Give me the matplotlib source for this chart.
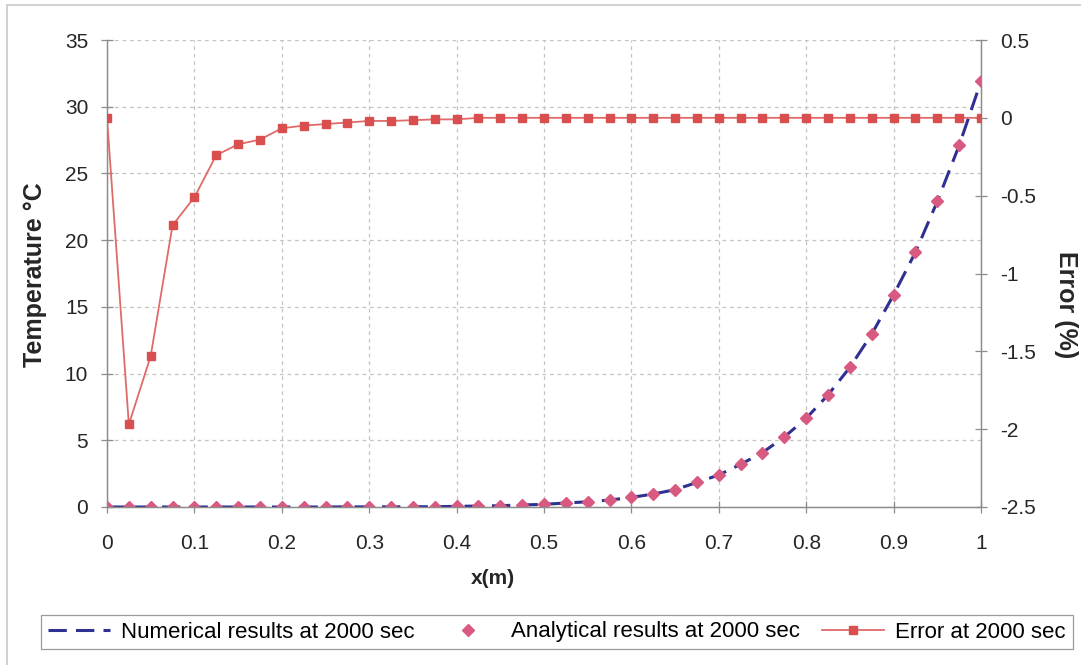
# Temperature profile at 2000 sec: numerical vs analytical, plus % error on a second axis.

import matplotlib.pyplot as plt
from matplotlib.patches import Rectangle
from matplotlib.ticker import FuncFormatter

plt.rcParams['font.family'] = ['Liberation Sans', 'DejaVu Sans']

x_pos = [i * 0.025 for i in range(41)]

analytical = [0.0, 0.0, 0.0, 0.0, 0.0, 0.0, 0.0, 0.0, 0.0, 0.0,
              0.0, 0.01, 0.01, 0.01, 0.02, 0.02, 0.05, 0.07, 0.1, 0.15,
              0.2, 0.3, 0.39, 0.52, 0.72, 0.97, 1.3, 1.84, 2.4, 3.2,
              4.08, 5.25, 6.65, 8.4, 10.47, 12.96, 15.9, 19.1, 22.9, 27.1,
              31.9]
numerical = [0.0, 0.0, 0.0, 0.0, 0.0, 0.0, 0.0, 0.0, 0.0, 0.0,
             0.0, 0.01, 0.01, 0.01, 0.02, 0.02, 0.05, 0.07, 0.1, 0.15,
             0.2, 0.3, 0.39, 0.52, 0.72, 0.97, 1.3, 1.84, 2.4, 3.2,
             4.08, 5.25, 6.65, 8.4, 10.47, 12.96, 15.9, 19.1, 22.9, 27.1,
             31.9]
error = [0.0, -1.97, -1.53, -0.69, -0.51, -0.24, -0.17, -0.14, -0.067, -0.05,
         -0.04, -0.03, -0.02, -0.02, -0.015, -0.01, -0.01, 0.0, 0.0, 0.0,
         0.0, 0.0, 0.0, 0.0, 0.0, 0.0, 0.0, 0.0, 0.0, 0.0,
         0.0, 0.0, 0.0, 0.0, 0.0, 0.0, 0.0, 0.0, 0.0, 0.0,
         0.0]

x_ticks = [i / 10 for i in range(11)]
temp_ticks = list(range(0, 40, 5))
err_ticks = [-2.5, -2.0, -1.5, -1.0, -0.5, 0.0, 0.5]

NAVY = '#2e3192'
PINK = '#d95a80'
RED = '#d94f4f'
RED_LINE = '#e06a6a'
GRID = '#c4c4c4'
SPINE = '#8c8c8c'
TEXT = '#262626'

fig = plt.figure(figsize=(10.81, 6.65), dpi=100)
ax = fig.add_axes([107 / 1081, 1 - 507 / 665, 874 / 1081, 467 / 665])
ax2 = ax.twinx()

num_line, = ax.plot(x_pos, numerical, color=NAVY, lw=2.2, dashes=(6, 3),
                    label='Numerical results at 2000 sec', zorder=3)
ana_pts, = ax.plot(x_pos, analytical, ls='none', marker='D', ms=6.5,
                   color=PINK, mec=PINK, label='Analytical results at 2000 sec',
                   zorder=4)
err_line, = ax2.plot(x_pos, error, color=RED_LINE, lw=1.3, marker='s', ms=6,
                     mfc=RED, mec=RED, label='Error at 2000 sec', zorder=5)

ax.set_xlim(0, 1)
ax.set_ylim(0, 35)
ax2.set_ylim(-2.5, 0.5)
ax.set_xticks(x_ticks)
ax.set_yticks(temp_ticks)
ax2.set_yticks(err_ticks)
ax.xaxis.set_major_formatter(FuncFormatter(lambda v, p: f'{v:g}'))
ax2.yaxis.set_major_formatter(FuncFormatter(lambda v, p: f'{v:g}'))

ax.grid(True, color=GRID, lw=0.9, dashes=(3, 3))
ax.set_axisbelow(True)

for a in (ax, ax2):
    a.spines['top'].set_visible(False)
    for s in ('left', 'right', 'bottom'):
        a.spines[s].set_color(SPINE)
        a.spines[s].set_linewidth(0.9)
    a.tick_params(colors=SPINE, labelcolor=TEXT, labelsize=15,
                  direction='inout', length=9, width=0.9)

ax.tick_params(axis='x', pad=15)
ax.tick_params(axis='y', pad=9)
ax2.tick_params(axis='y', pad=9)

fig.text(35 / 1081, 1 - 275 / 665, 'Temperature °C', rotation=90, ha='center',
         va='center', fontsize=18, fontweight='bold', color=TEXT)
fig.text(493 / 1081, 1 - 578 / 665, 'x(m)', ha='center', va='center',
         fontsize=15, fontweight='bold', color=TEXT)
# the reference crops this label at the right edge; keep it just inside
fig.text(1066 / 1081, 1 - 305 / 665, 'Error (%)', rotation=270, ha='center',
         va='center', fontsize=18, fontweight='bold', color=TEXT)

leg = fig.legend(handles=[num_line, ana_pts, err_line], loc='center',
                 bbox_to_anchor=(557 / 1081, 1 - 632 / 665), ncol=3,
                 fontsize=16, frameon=True, fancybox=False, framealpha=1,
                 edgecolor='#9a9a9a', handlelength=2.8, columnspacing=1.0,
                 handletextpad=0.5, borderpad=0.3, borderaxespad=0)
leg.get_frame().set_linewidth(0.9)

fig.patches.append(Rectangle((7 / 1081, -0.05), 1.2, 1 - 5 / 665 + 0.05,
                             transform=fig.transFigure, fill=False,
                             edgecolor='#c8c8c8', lw=1.2))

plt.savefig('out.png', dpi=100)
